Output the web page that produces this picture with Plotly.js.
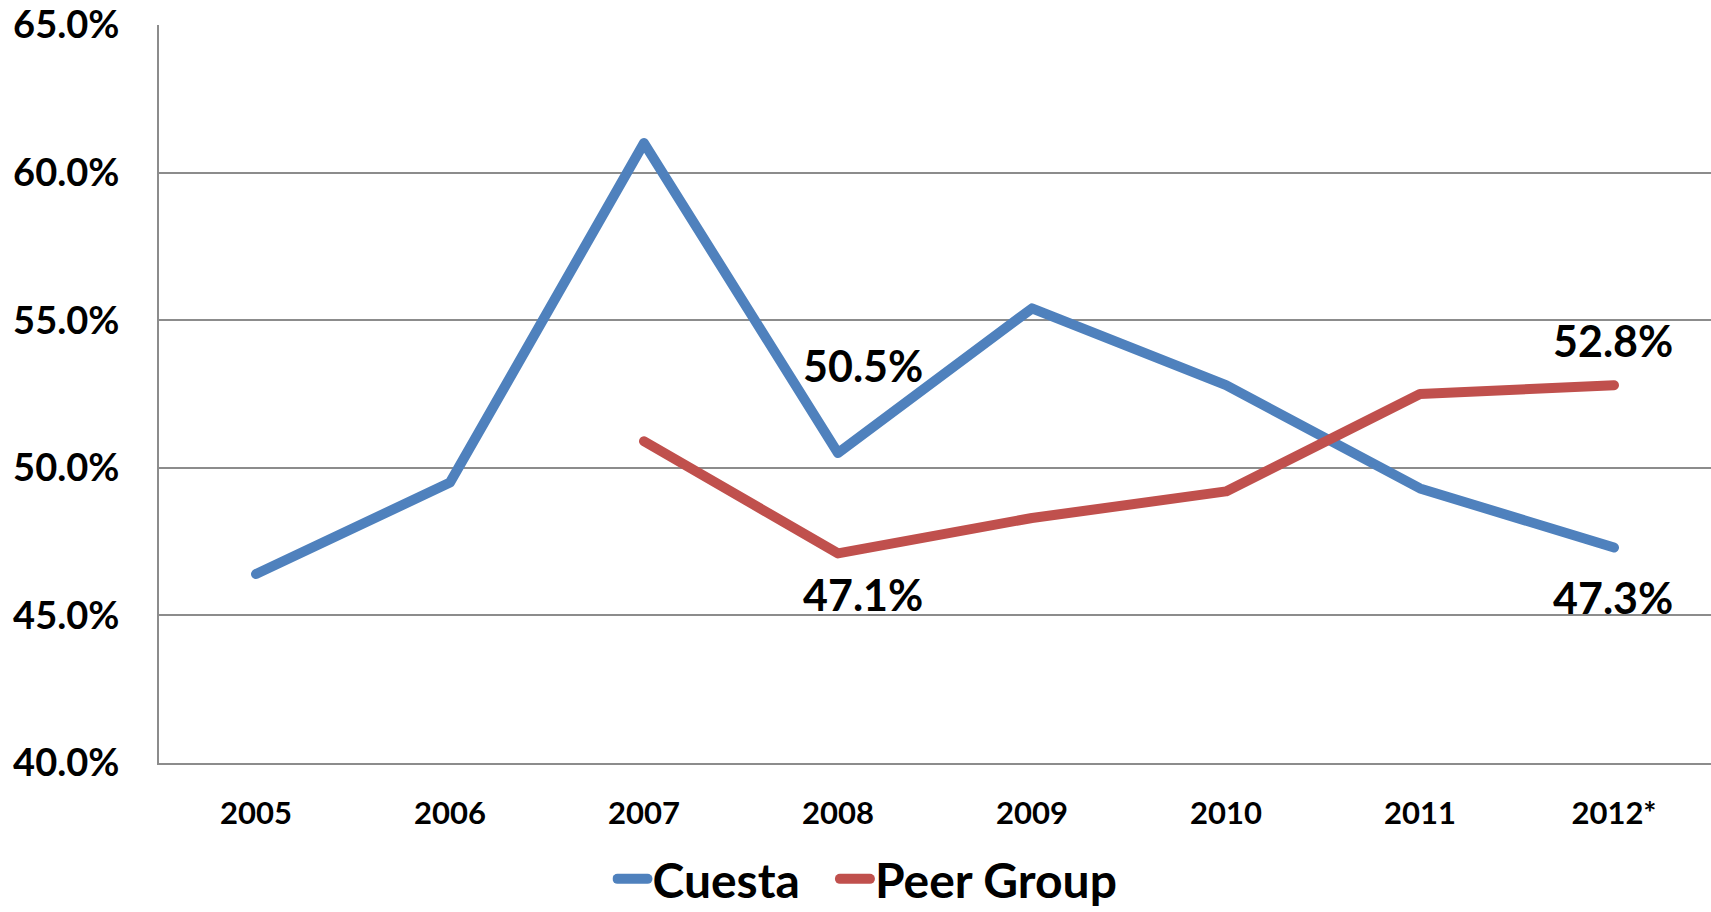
<!DOCTYPE html>
<html>
<head>
<meta charset="utf-8">
<script src="https://cdn.plot.ly/plotly-3.0.1.min.js"></script>
<style>
html,body{margin:0;padding:0;background:#fff;}
#chart{width:1711px;height:912px;}
.js-line{stroke-linecap:round;stroke-linejoin:round;}
.legendlines path{stroke-linecap:round;}
</style>
</head>
<body>
<div id="chart"></div>
<script>
const years = ["2005", "2006", "2007", "2008", "2009", "2010", "2011", "2012*"];
const cuesta = [46.4, 49.5, 61.0, 50.5, 55.4, 52.8, 49.3, 47.3];
const peerGroup = [null, null, 50.9, 47.1, 48.3, 49.2, 52.5, 52.8];
const seriesNames = ["Cuesta", "Peer Group"];
const yTicks = [40, 45, 50, 55, 60, 65];

const FONT = "Lato, 'Open Sans', sans-serif";
const LEGEND_GAP = "\u2002\u2009";

const traces = [
  {x: years, y: cuesta, name: seriesNames[0] + LEGEND_GAP, type: "scatter", mode: "lines",
   line: {color: "#4F81BD", width: 10}, connectgaps: false},
  {x: years, y: peerGroup, name: seriesNames[1], type: "scatter", mode: "lines",
   line: {color: "#C0504D", width: 10}, connectgaps: false}
];

function lbl(series, idx, yshift, xshift) {
  return {x: idx, y: series[idx], text: series[idx].toFixed(1) + "%",
    showarrow: false, xref: "x", yref: "y", yshift: yshift, xshift: xshift,
    font: {family: FONT, size: 43, color: "#000", weight: "bold"}};
}

const annotations = [
  lbl(cuesta, 3, 88, 25),
  lbl(peerGroup, 3, -41, 25),
  lbl(peerGroup, 7, 45, -1),
  lbl(cuesta, 7, -50, -1)
];

const layout = {
  width: 1711, height: 912,
  margin: {l: 159, r: 0, t: 25, b: 149, pad: 0},
  paper_bgcolor: "#fff", plot_bgcolor: "#fff",
  font: {family: FONT, color: "#000"},
  showlegend: true,
  legend: {orientation: "h", xref: "container", yref: "container",
    x: 0.507, xanchor: "center", y: 0.036, yanchor: "middle",
    font: {family: FONT, size: 48, color: "#000", weight: "bold"}, itemwidth: 30, tracegroupgap: 0},
  xaxis: {type: "category", range: [-0.5, 7.5], showgrid: false, showline: true,
    linecolor: "#8c8c8c", linewidth: 2, ticks: "", ticklabelstandoff: 22,
    tickfont: {family: FONT, size: 31, color: "#000", weight: "bold"}, fixedrange: true},
  yaxis: {range: [40, 65], tickvals: yTicks, ticktext: yTicks.map(v => v.toFixed(1) + "%"),
    showgrid: true, gridcolor: "#8c8c8c", gridwidth: 2, showline: true, linecolor: "#8c8c8c",
    linewidth: 2, zeroline: false, ticks: "", ticklabelstandoff: 30,
    tickfont: {family: FONT, size: 38, color: "#000", weight: "bold"}, fixedrange: true},
  annotations: annotations
};

Plotly.newPlot("chart", traces, layout, {displayModeBar: false, staticPlot: true});
</script>
</body>
</html>
